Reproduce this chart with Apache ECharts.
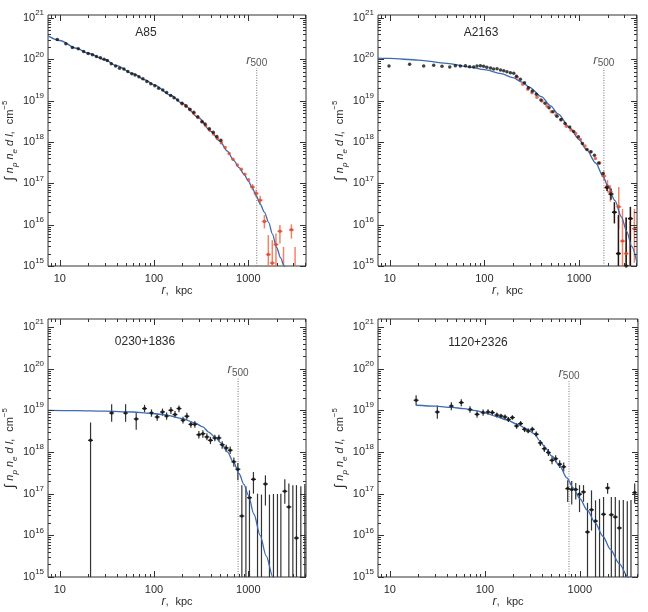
<!DOCTYPE html>
<html>
<head>
<meta charset="utf-8">
<script src="https://cdn.jsdelivr.net/npm/echarts@6/dist/echarts.min.js"></script>
<style>
  html, body { margin: 0; padding: 0; background: #fff; }
  #chart { width: 648px; height: 612px; }
</style>
</head>
<body>
<div id="chart"></div>
<script>
  // r in kpc, projected emission measure in cm^-5

  // ---- A85 ----
  const a85Black = [
    [9.4, 3.0e20], [11.6, 2.38e20], [13.6, 1.94e20], [15.7, 1.80e20], [17.9, 1.55e20],
    [20.0, 1.39e20], [22.2, 1.29e20], [24.5, 1.17e20], [27.0, 1.09e20], [29.5, 1.01e20],
    [31.9, 9.4e19], [35.2, 7.8e19], [39.1, 6.9e19], [43.1, 6.1e19], [47.9, 5.8e19],
    [52.7, 5.1e19], [58.1, 4.5e19], [62.9, 4.15e19], [69.2, 3.78e19], [76.2, 3.38e19],
    [84, 2.9e19], [92.5, 2.55e19], [102, 2.29e19], [112, 2.0e19], [124, 1.8e19],
    [136, 1.57e19], [150, 1.33e19], [163, 1.17e19], [178, 1.03e19], [198, 8.7e18],
    [218, 7.5e18], [240, 6.2e18], [264, 5.25e18], [291, 4.1e18], [324, 3.1e18],
    [348, 2.73e18], [386, 2.1e18], [425, 1.72e18], [464, 1.35e18], [512, 1.1e18]
  ]
  const a85Red = [
    [199, 8.3e18], [219, 7.2e18], [241, 6.0e18], [265, 4.9e18], [292, 3.9e18],
    [321, 3.1e18], [353, 2.5e18], [388, 1.95e18], [427, 1.55e18], [470, 1.22e18],
    [517, 9.6e17], [569, 7.4e17], [626, 5.3e17], [689, 3.8e17], [766, 2.77e17],
    [844, 2.18e17], [920, 1.65e17], [1006, 1.22e17]
  ]
  // [r, value, low, high]
  const a85RedErr = [
    [1109, 8.1e16, 6.8e16, 9.6e16], [1213, 5.7e16, 4.6e16, 7.0e16], [1337, 3.9e16, 3.0e16, 5.0e16],
    [1483, 1.2e16, 8.1e15, 1.7e16], [1633, 1.9e15, 1e14, 5.6e15], [1799, 1.18e15, 1e14, 4.2e15],
    [1967, 3.3e15, 1e14, 6.1e15], [2168, 6.9e15, 3.5e15, 9.8e15], [2367, 3e14, 1e14, 2.9e15],
    [2871, 7.5e15, 4.6e15, 1.02e16], [3140, 3e14, 1e14, 2.9e15]
  ]
  const a85Model = [
    [7.5, 3.7e20], [10, 2.85e20], [15, 1.85e20], [20, 1.4e20], [30, 9.8e19], [40, 7.0e19],
    [60, 4.5e19], [80, 3.2e19], [100, 2.4e19], [150, 1.35e19], [200, 8.6e18], [300, 3.8e18],
    [400, 1.8e18], [500, 1.05e18], [600, 6.0e17], [700, 3.6e17], [800, 2.4e17], [900, 1.66e17],
    [1000, 1.15e17], [1100, 7.9e16], [1213, 5.0e16], [1337, 3.2e16], [1483, 2.0e16],
    [1650, 1.12e16], [1800, 6.0e15], [2000, 2.8e15], [2200, 1.6e15], [2400, 1.0e15], [2600, 6.3e14]
  ]

  // ---- A2163 ----
  const a2163Black = [
    [9.8, 6.9e19], [16.2, 7.6e19], [22.8, 6.9e19], [29.1, 7.2e19], [35.6, 6.8e19],
    [43, 6.5e19], [49.3, 7.0e19], [55.7, 6.9e19], [63, 7.0e19], [69.8, 6.6e19],
    [77, 6.5e19], [83.5, 6.9e19], [90.6, 7.0e19], [98, 6.8e19], [106, 6.4e19],
    [116, 6.2e19], [125, 5.8e19], [136, 5.9e19], [148, 5.5e19], [160, 5.3e19],
    [173, 5.0e19], [188, 4.7e19], [204, 4.6e19], [218, 3.9e19], [240, 3.3e19],
    [265, 2.7e19], [292, 2.05e19], [321, 1.7e19], [354, 1.42e19], [396, 1.03e19],
    [437, 8.6e18], [482, 6.7e18], [531, 5.4e18], [585, 4.2e18], [645, 3.5e18],
    [711, 2.8e18], [797, 2.3e18], [878, 1.8e18], [984, 1.33e18], [1086, 9.2e17],
    [1214, 6.6e17], [1339, 5.8e17], [1455, 4.8e17], [1615, 3.1e17], [1791, 1.73e17]
  ]
  const a2163BlackErr = [
    [1977, 7.9e16, 6.5e16, 9.5e16], [2177, 5.5e16, 4.0e16, 7.5e16], [2365, 2.0e16, 1.07e16, 3.5e16],
    [2608, 2.0e15, 1e14, 1.7e16], [3150, 1.0e15, 1e14, 1.5e16], [3490, 1.4e16, 1e14, 2.7e16]
  ]
  const a2163Red = [
    [221, 3.66e19], [254, 2.5e19], [287, 1.88e19], [318, 1.55e19], [359, 1.2e19],
    [406, 9.8e18], [458, 7.4e18], [510, 5.4e18], [571, 4.5e18], [645, 3.4e18],
    [735, 2.4e18], [822, 1.94e18], [922, 1.6e18], [1033, 1.15e18], [1156, 8e17],
    [1318, 5.7e17], [1489, 4e17], [1652, 3.1e17]
  ]
  const a2163RedErr = [
    [1830, 1.5e17, 1.15e17, 1.95e17], [2000, 8.5e16, 6.0e16, 1.2e17], [2143, 6.2e16, 3.6e16, 9.0e16],
    [2630, 2.7e16, 7.9e15, 8.1e16], [2880, 4.0e15, 1e14, 2.4e16], [3150, 2.0e15, 1e14, 1.5e16],
    [3450, 9.0e14, 1e14, 1.2e16], [3850, 8.0e15, 1.2e15, 2.4e16]
  ]
  const a2163Model = [
    [7.5, 1.07e20], [10, 1.05e20], [20, 9.6e19], [40, 8.0e19], [70, 6.5e19], [100, 5.6e19],
    [150, 4.5e19], [200, 3.6e19], [250, 2.8e19], [300, 2.1e19], [400, 1.25e19], [500, 7.5e18],
    [600, 4.8e18], [800, 2.2e18], [1000, 1.15e18], [1200, 6.5e17], [1500, 3.1e17], [1800, 1.45e17],
    [2000, 9.0e16], [2400, 3.8e16], [2800, 1.55e16], [3200, 6.8e15], [3600, 3.0e15], [4100, 1.2e15]
  ]

  // ---- 0230+1836 ----
  const c0230Pts = [
    [21.2, 1.9e18, 1e14, 5.1e18], [35.5, 8.6e18, 5.3e18, 1.4e19], [49.9, 8.6e18, 5.3e18, 1.4e19],
    [64.7, 6.2e18, 3.4e18, 8.9e18], [79.3, 1.1e19, 9.0e18, 1.35e19], [94, 8.6e18, 7.0e18, 1.05e19],
    [108, 6.9e18, 5.6e18, 8.4e18], [123, 9.1e18, 7.4e18, 1.1e19], [136, 7.3e18, 5.9e18, 8.9e18],
    [151, 1.0e19, 8.2e18, 1.2e19], [167, 7.9e18, 6.5e18, 9.6e18], [184, 1.1e19, 9.0e18, 1.3e19],
    [203, 5.8e18, 4.8e18, 7.0e18], [223, 7.2e18, 6.0e18, 8.7e18], [246, 4.6e18, 3.8e18, 5.5e18],
    [271, 4.6e18, 3.8e18, 5.5e18], [299, 2.6e18, 2.1e18, 3.2e18], [330, 2.75e18, 2.2e18, 3.3e18],
    [364, 2.3e18, 1.9e18, 2.8e18], [397, 1.9e18, 1.55e18, 2.3e18], [442, 2.17e18, 1.8e18, 2.6e18],
    [488, 2.17e18, 1.8e18, 2.6e18], [529, 1.5e18, 1.2e18, 1.8e18], [583, 1.25e18, 1.0e18, 1.5e18],
    [643, 1.1e18, 8.9e17, 1.35e18], [703, 5.8e17, 4.4e17, 7.4e17], [776, 3.85e17, 2.1e17, 5.4e17],
    [855, 2.9e16, 1e14, 1.6e17], [944, 3e14, 1e14, 1.5e17], [1030, 8e16, 1e14, 1.2e17],
    [1135, 2.2e17, 1.0e17, 3.3e17], [1254, 3e14, 1e14, 1.0e17], [1381, 3e14, 1e14, 9.5e16],
    [1521, 1.7e17, 5.2e16, 2.75e17], [1679, 3e14, 1e14, 9.5e16], [1851, 3e14, 1e14, 9.8e16],
    [2041, 3e14, 1e14, 9.8e16], [2218, 3e14, 1e14, 1.0e17], [2443, 1.14e17, 5.7e16, 2.2e17],
    [2697, 4.8e16, 1e14, 1.75e17], [2974, 3e14, 1e14, 1.6e17], [3247, 8.6e15, 1e14, 1.6e17],
    [3614, 3e14, 1e14, 1.5e17], [3985, 3e14, 1e14, 1.7e17]
  ]
  const c0230Model = [
    [7.5, 9.9e18], [15, 9.8e18], [30, 9.5e18], [60, 9.1e18], [90, 8.5e18], [130, 7.8e18],
    [200, 6.3e18], [270, 5.0e18], [330, 4.0e18], [380, 3.0e18], [450, 2.2e18], [520, 1.6e18],
    [600, 1.0e18], [700, 5.6e17], [800, 3.0e17], [900, 1.66e17], [1000, 9.3e16], [1150, 3.2e16],
    [1337, 1.0e16], [1550, 3.2e15], [1824, 1.0e15], [1950, 5.6e14]
  ]

  // ---- 1120+2326 ----
  const c1120Pts = [
    [18.9, 1.74e19, 1.3e19, 2.3e19], [31.6, 9.1e18, 6.3e18, 1.3e19], [44.4, 1.26e19, 1.0e19, 1.55e19],
    [56.5, 1.53e19, 1.25e19, 1.85e19], [69.8, 1.04e19, 8.7e18, 1.25e19], [82.8, 8.0e18, 6.6e18, 9.6e18],
    [95.9, 8.8e18, 7.4e18, 1.05e19], [108, 9.1e18, 7.8e18, 1.06e19], [120, 8.8e18, 7.6e18, 1.02e19],
    [134, 7.7e18, 6.7e18, 8.8e18], [148, 7.3e18, 6.4e18, 8.3e18], [163, 6.9e18, 6.0e18, 7.9e18],
    [177, 6.0e18, 5.2e18, 6.9e18], [195, 6.7e18, 5.9e18, 7.6e18], [216, 4.2e18, 3.6e18, 4.9e18],
    [238, 4.8e18, 4.2e18, 5.5e18], [262, 3.5e18, 3.0e18, 4.0e18], [286, 3.2e18, 2.8e18, 3.7e18],
    [316, 3.5e18, 3.0e18, 4.0e18], [348, 2.66e18, 2.3e18, 3.1e18], [384, 1.65e18, 1.4e18, 1.95e18],
    [423, 1.2e18, 1.0e18, 1.45e18], [467, 9.7e17, 8.0e17, 1.17e18], [510, 6.3e17, 5.1e17, 7.7e17],
    [557, 6.9e17, 5.7e17, 8.3e17], [614, 5.1e17, 4.1e17, 6.3e17], [677, 4.4e17, 3.4e17, 5.6e17],
    [746, 1.32e17, 6.3e16, 2.1e17], [822, 1.25e17, 5.5e16, 2.0e17], [906, 1.26e17, 7.2e16, 1.8e17],
    [993, 9.7e16, 3.6e16, 1.6e17], [1094, 1.1e17, 6.4e16, 1.6e17], [1205, 1.2e16, 1e14, 6e16],
    [1328, 4.1e16, 1.3e16, 1.2e17], [1464, 2.2e16, 1e14, 6.9e16], [1614, 3e14, 1e14, 7.5e16],
    [1779, 3.2e16, 1e14, 8.3e16], [1962, 1.37e17, 1.0e17, 1.8e17], [2148, 3.1e16, 1e14, 8.3e16],
    [2365, 2.75e16, 1e14, 8.3e16], [2608, 1.5e16, 1e14, 6.9e16], [2871, 3e14, 1e14, 7e16],
    [3162, 3e14, 1e14, 6.6e16], [3458, 3e14, 1e14, 7e16], [3784, 1.06e17, 5.8e16, 1.74e17]
  ]
  const c1120Model = [
    [18.9, 1.32e19], [30, 1.26e19], [45, 1.17e19], [60, 1.1e19], [80, 9.8e18], [100, 8.7e18],
    [130, 7.2e18], [170, 5.9e18], [220, 4.6e18], [280, 3.5e18], [330, 2.75e18], [384, 1.8e18],
    [423, 1.35e18], [510, 7.9e17], [614, 4.6e17], [731, 2.4e17], [850, 1.38e17], [1000, 7.6e16],
    [1200, 4.0e16], [1452, 2.0e16], [1750, 9.5e15], [2100, 4.6e15], [2600, 2.1e15], [3214, 1.0e15],
    [3400, 8e14]
  ]

  // r500 per panel and where the dotted line stops
  const r500 = [1230, 1830, 780, 770]
  const r500Top = [6.2e19, 6.2e19, 6.0e19, 5.0e19]
  const clusterNames = ['A85', 'A2163', '0230+1836', '1120+2326']

  // axis ticks
  const xTicks = [8, 9, 10, 20, 30, 40, 50, 60, 70, 80, 90, 100, 200, 300, 400, 500, 600, 700, 800, 900,
    1000, 2000, 3000, 4000]
  const yExponents = [15, 16, 17, 18, 19, 20, 21]
  const yMantissas = [1, 2, 3, 4, 5, 6, 7, 8, 9]

  const xMin = 7.5, xMax = 4100, yMin = 1e15
  const yMax = [1.18e21, 1.18e21, 1.55e21, 1.55e21]

  const FONT = 'Liberation Sans, Arial, sans-serif'
  const INK = '#2a2a2a'
  const BLUE = '#3b6bb0'

  const boxes = [
    {left: 48, top: 15, width: 258, height: 251},
    {left: 378, top: 15, width: 259, height: 251},
    {left: 48, top: 319, width: 258, height: 258},
    {left: 378, top: 319, width: 260, height: 258}
  ]

  function isDecade(v) {
    const e = Math.log10(v)
    return Math.abs(e - Math.round(e)) < 1e-6
  }

  const chart = echarts.init(document.getElementById('chart'))

  const grid = boxes.map(b => Object.assign({show: true, borderColor: '#333', borderWidth: 1}, b))

  const xAxis = boxes.map((b, i) => ({
    type: 'log', logBase: 10, gridIndex: i, min: xMin, max: xMax,
    axisLine: {show: false}, axisTick: {show: false}, splitLine: {show: false},
    axisLabel: {
      margin: 7, fontSize: 11, color: INK, fontFamily: FONT,
      formatter: v => isDecade(v) ? String(Math.round(v)) : ''
    },
    name: '{it|r},  {rm|kpc}', nameLocation: 'middle', nameGap: 18,
    nameTextStyle: {
      rich: {
        it: {fontSize: 12, fontStyle: 'italic', fontFamily: FONT, color: INK},
        rm: {fontSize: 11, fontFamily: FONT, color: INK}
      }
    }
  }))

  const yAxis = boxes.map((b, i) => ({
    type: 'log', logBase: 10, gridIndex: i, min: yMin, max: yMax[i], splitNumber: 6,
    axisLine: {show: false}, axisTick: {show: false}, splitLine: {show: false},
    axisLabel: {
      margin: 4,
      formatter: v => isDecade(v) ? '{b|10}{s|' + Math.round(Math.log10(v)) + '}' : '',
      rich: {
        b: {fontSize: 11, lineHeight: 18, fontFamily: FONT, color: INK},
        s: {fontSize: 8, lineHeight: 9, verticalAlign: 'top', fontFamily: FONT, color: INK}
      }
    },
    name: '{int|∫} {it|n}{sub|p}{it| n}{sub|e}{it| d l},  {rm|cm}{sup|−5}',
    nameLocation: 'middle', nameGap: 25, nameRotate: 90,
    nameTextStyle: {
      rich: {
        int: {fontSize: 14, lineHeight: 18, fontFamily: FONT, color: INK},
        it: {fontSize: 11, lineHeight: 18, fontStyle: 'italic', fontFamily: FONT, color: INK},
        sub: {fontSize: 8, lineHeight: 12, verticalAlign: 'bottom', fontStyle: 'italic', fontFamily: FONT, color: INK},
        rm: {fontSize: 11, lineHeight: 18, fontFamily: FONT, color: INK},
        sup: {fontSize: 8, lineHeight: 10, verticalAlign: 'top', fontFamily: FONT, color: INK}
      }
    }
  }))

  // ticks on all four sides, long at decades
  function tickSeries(i) {
    const yTicks = []
    yExponents.forEach(e => yMantissas.forEach(m => {
      const v = m * Math.pow(10, e)
      if (v <= yMax[i] * 1.0001) yTicks.push(v)
    }))
    const line = (x1, y1, x2, y2) => ({
      type: 'line', shape: {x1, y1, x2, y2}, style: {stroke: '#333', lineWidth: 1}
    })
    return [{
      type: 'custom', xAxisIndex: i, yAxisIndex: i, silent: true, z: 6,
      data: xTicks.map(v => [v, yMin]),
      renderItem: (params, api) => {
        const cs = params.coordSys
        const x = Math.round(api.coord([api.value(0), yMin])[0]) + 0.5
        const len = isDecade(api.value(0)) ? 6 : 3
        return {type: 'group', children: [
          line(x, cs.y + cs.height, x, cs.y + cs.height - len),
          line(x, cs.y, x, cs.y + len)
        ]}
      }
    }, {
      type: 'custom', xAxisIndex: i, yAxisIndex: i, silent: true, z: 6,
      data: yTicks.map(v => [xMin, v]),
      renderItem: (params, api) => {
        const cs = params.coordSys
        const y = Math.round(api.coord([xMin, api.value(1)])[1]) + 0.5
        const len = isDecade(api.value(1)) ? 6 : 3
        return {type: 'group', children: [
          line(cs.x, y, cs.x + len, y),
          line(cs.x + cs.width, y, cs.x + cs.width - len, y)
        ]}
      }
    }]
  }

  function errSeries(i, data, color, width) {
    return {
      type: 'custom', xAxisIndex: i, yAxisIndex: i, silent: true, clip: true, z: 3,
      data: data,
      renderItem: (params, api) => {
        const r = api.value(0)
        const p = api.coord([r, api.value(1)])
        const lo = api.coord([r, api.value(2)])
        const hi = api.coord([r, api.value(3)])
        const st = {stroke: color, lineWidth: width}
        return {type: 'group', children: [
          {type: 'line', shape: {x1: p[0], y1: hi[1], x2: p[0], y2: lo[1]}, style: st},
          {type: 'line', shape: {x1: p[0] - 2.5, y1: p[1], x2: p[0] + 2.5, y2: p[1]}, style: st}
        ]}
      }
    }
  }

  function pointSeries(i, data, color, size) {
    return {
      type: 'scatter', xAxisIndex: i, yAxisIndex: i, silent: true, clip: true, z: 5,
      data: data.map(d => [d[0], d[1]]), symbolSize: size, itemStyle: {color: color}
    }
  }

  function modelSeries(i, data) {
    return {
      type: 'line', xAxisIndex: i, yAxisIndex: i, silent: true, clip: true, z: 4,
      data: data, symbol: 'none', smooth: 0.3, smoothMonotone: 'x',
      lineStyle: {color: BLUE, width: 1.3}
    }
  }

  function r500Series(i) {
    return [{
      type: 'line', xAxisIndex: i, yAxisIndex: i, silent: true, z: 2,
      data: [[r500[i], yMin], [r500[i], r500Top[i]]], symbol: 'none',
      lineStyle: {color: '#777', width: 1, type: [1, 1.5]}
    }, {
      type: 'scatter', xAxisIndex: i, yAxisIndex: i, silent: true, z: 2,
      data: [[r500[i], r500Top[i]]], symbolSize: 0,
      label: {
        show: true, position: 'top', distance: 0,
        formatter: '{it|r}{sub|500}',
        rich: {
          it: {fontSize: 13, lineHeight: 16, fontStyle: 'italic', fontFamily: FONT, color: INK},
          sub: {fontSize: 10, lineHeight: 12, verticalAlign: 'bottom', fontFamily: FONT, color: INK}
        }
      }
    }]
  }

  const RED = '#e0472c'
  const RED_BAR = 'rgba(236, 110, 80, 0.85)'

  const series = [].concat(
    tickSeries(0), tickSeries(1), tickSeries(2), tickSeries(3),
    r500Series(0), r500Series(1), r500Series(2), r500Series(3),

    // A85
    errSeries(0, a85RedErr, RED_BAR, 1.5),
    modelSeries(0, a85Model),
    pointSeries(0, a85Red.concat(a85RedErr), RED, 3.5),
    pointSeries(0, a85Black, '#111', 3.5),

    // A2163
    errSeries(1, a2163RedErr, RED_BAR, 1.5),
    errSeries(1, a2163BlackErr, '#2a1410', 1.5),
    modelSeries(1, a2163Model),
    pointSeries(1, a2163Red.concat(a2163RedErr), RED, 3.5),
    pointSeries(1, a2163Black.concat(a2163BlackErr), '#111', 3.5),

    // 0230+1836
    errSeries(2, c0230Pts, '#333', 1.2),
    modelSeries(2, c0230Model),
    pointSeries(2, c0230Pts, '#111', 3.5),

    // 1120+2326
    errSeries(3, c1120Pts, '#333', 1.2),
    modelSeries(3, c1120Model),
    pointSeries(3, c1120Pts, '#111', 3.5)
  )

  const namePos = [[146, 33], [481, 33], [145, 342], [478, 343]]
  const graphic = clusterNames.map((t, i) => ({
    type: 'text', x: namePos[i][0], y: namePos[i][1], silent: true,
    style: {text: t, align: 'center', verticalAlign: 'middle', font: '12px ' + FONT, fill: INK}
  }))

  chart.setOption({
    animation: false,
    backgroundColor: '#fff',
    grid: grid,
    xAxis: xAxis,
    yAxis: yAxis,
    graphic: graphic,
    series: series
  })
</script>
</body>
</html>
